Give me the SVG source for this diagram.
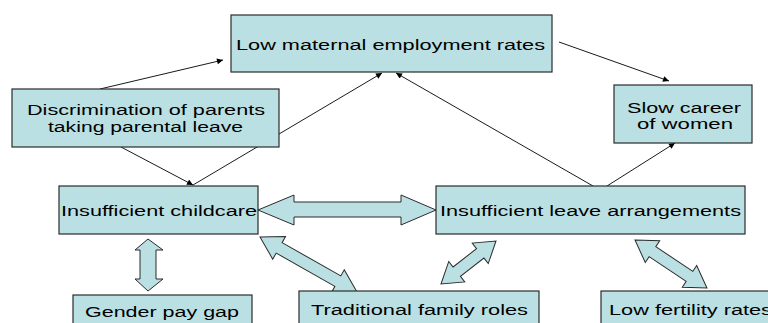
<svg xmlns="http://www.w3.org/2000/svg" width="768" height="323" viewBox="0 0 768 323">
<defs>
<marker id="ah" viewBox="0 0 10 10" refX="10" refY="5" markerWidth="7" markerHeight="6" markerUnits="userSpaceOnUse" orient="auto">
<path d="M0,0 L10,5 L0,10 z" fill="#000"/>
</marker>
<style>
.box{fill:#bbe0e3;stroke:#2b2b2b;stroke-width:1.2}
.blk{fill:#bbe0e3;stroke:#2b2b2b;stroke-width:1}
.lbl{font-family:"Liberation Sans",Arial,sans-serif;font-size:14px;fill:#000}
.con{stroke:#000;stroke-width:0.9;fill:none;marker-end:url(#ah)}
</style>
</defs>
<rect width="768" height="323" fill="#fff"/>
<g id="connectors">
<line class="con" x1="100" y1="89" x2="223" y2="60"/>
<line class="con" x1="121" y1="147" x2="193" y2="185"/>
<line class="con" x1="193" y1="185" x2="382" y2="73"/>
<line class="con" x1="559" y1="42" x2="669" y2="81"/>
<line class="con" x1="593" y1="186" x2="396" y2="73"/>
<line class="con" x1="607" y1="186" x2="675" y2="143"/>
<polygon class="blk" points="258,210 294,195 294,202 401,202 401,195 436,210 401,225 401,217 294,217 294,225"/>
<polygon class="blk" points="148,239 163,250 156,250 156,279 163,279 148,291 135,279 140,279 140,250 135,250"/>
<polygon class="blk" transform="translate(260,237) rotate(29.55)" points="0,0 22,-13 22,-6 89.5,-6 89.5,-13 111.5,0 89.5,13 89.5,6 22,6 22,13"/>
<polygon class="blk" transform="translate(441,284) rotate(-38)" points="0,0 20,-13 20,-6 49.8,-6 49.8,-13 69.8,0 49.8,13 49.8,6 20,6 20,13"/>
<polygon class="blk" transform="translate(635,240) rotate(33.7)" points="0,0 21,-13 21,-6 65.5,-6 65.5,-13 86.5,0 65.5,13 65.5,6 21,6 21,13"/>
</g>
<g id="n-low-maternal">
<rect class="box" x="231" y="15" width="321" height="57"/>
<text class="lbl" x="236" y="50" textLength="309" lengthAdjust="spacingAndGlyphs">Low maternal employment rates</text>
</g>
<g id="n-discrimination">
<rect class="box" x="12" y="89" width="267" height="58"/>
<text class="lbl" x="27" y="115" textLength="238" lengthAdjust="spacingAndGlyphs">Discrimination of parents</text>
<text class="lbl" x="48" y="132" textLength="195" lengthAdjust="spacingAndGlyphs">taking parental leave</text>
</g>
<g id="n-slow-career">
<rect class="box" x="614" y="85" width="138" height="58"/>
<text class="lbl" x="627" y="113" textLength="114" lengthAdjust="spacingAndGlyphs">Slow career</text>
<text class="lbl" x="637" y="129" textLength="96" lengthAdjust="spacingAndGlyphs">of women</text>
</g>
<g id="n-childcare">
<rect class="box" x="59" y="186" width="199" height="48"/>
<text class="lbl" x="61" y="216" textLength="196" lengthAdjust="spacingAndGlyphs">Insufficient childcare</text>
</g>
<g id="n-leave">
<rect class="box" x="436" y="186" width="309" height="48"/>
<text class="lbl" x="440" y="216" textLength="301" lengthAdjust="spacingAndGlyphs">Insufficient leave arrangements</text>
</g>
<g id="n-gender-pay">
<rect class="box" x="73" y="295" width="179" height="50"/>
<text class="lbl" x="85" y="317" textLength="154" lengthAdjust="spacingAndGlyphs">Gender pay gap</text>
</g>
<g id="n-traditional">
<rect class="box" x="299" y="291" width="240" height="50"/>
<text class="lbl" x="311" y="315" textLength="217" lengthAdjust="spacingAndGlyphs">Traditional family roles</text>
</g>
<g id="n-fertility">
<rect class="box" x="601" y="291" width="190" height="50"/>
<text class="lbl" x="609" y="315" textLength="163" lengthAdjust="spacingAndGlyphs">Low fertility rates</text>
</g>
</svg>
